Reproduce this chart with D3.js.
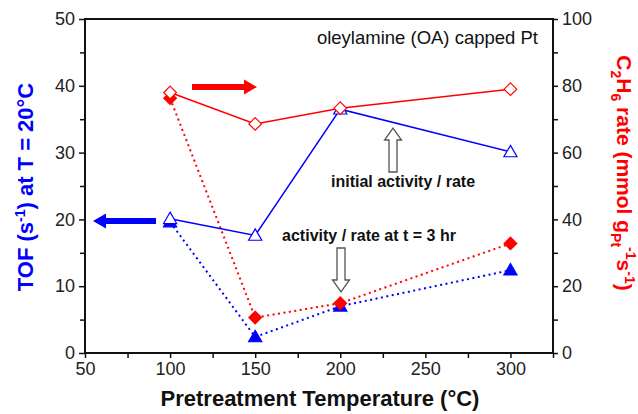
<!DOCTYPE html>
<html><head><meta charset="utf-8">
<script src="https://cdn.jsdelivr.net/npm/d3@7"></script>
<style>body{margin:0;background:#fff}svg{display:block}text{font-family:"Liberation Sans",Arial,sans-serif}</style>
</head><body><svg id="c" width="638" height="414"></svg>
<script>
const temps = [100, 150, 200, 300];
const tofInitial = [20.1, 17.6, 36.5, 30.1];
const tof3hr = [19.6, 2.4, 7.0, 12.4];
const rateInitial = [78.0, 68.6, 73.3, 79.0];
const rate3hr = [76.3, 10.6, 14.9, 32.8];
const xTicks = [50, 100, 150, 200, 250, 300];
const yLeftTicks = [0, 10, 20, 30, 40, 50];
const yRightTicks = [0, 20, 40, 60, 80, 100];

const svg = d3.select("#c");
const L = 85, R = 553, T = 19, B = 353;
const x = d3.scaleLinear().domain([50, 325]).range([L, R]);
const yl = d3.scaleLinear().domain([0, 50]).range([B, T]);
const yr = d3.scaleLinear().domain([0, 100]).range([B, T]);
const BLUE = "#0000ff", RED = "#ff0000";

svg.append("rect").attr("x", L).attr("y", T).attr("width", R - L).attr("height", B - T)
  .attr("fill", "none").attr("stroke", "#111").attr("stroke-width", 2);

function styleAxis(g) {
  g.selectAll(".domain").remove();
  g.selectAll("line").attr("stroke", "#111").attr("stroke-width", 1.5);
  g.selectAll("text").attr("fill", "#222").style("font-size", "18px");
}
svg.append("g").attr("transform", `translate(0,${B})`)
  .call(d3.axisBottom(x).tickValues([75,125,175,225,275,325]).tickSize(5).tickFormat(""))
  .call(styleAxis);
svg.append("g").attr("transform", `translate(0,${B})`)
  .call(d3.axisBottom(x).tickValues(xTicks).tickSize(5).tickPadding(4).tickFormat(d3.format("d")))
  .call(styleAxis);
svg.append("g").attr("transform", `translate(${L},0)`)
  .call(d3.axisLeft(yl).tickValues([5,15,25,35,45]).tickSize(5).tickFormat(""))
  .call(styleAxis);
svg.append("g").attr("transform", `translate(${L},0)`)
  .call(d3.axisLeft(yl).tickValues(yLeftTicks).tickSize(6).tickPadding(4).tickFormat(d3.format("d")))
  .call(styleAxis);
svg.append("g").attr("transform", `translate(${R},0)`)
  .call(d3.axisRight(yr).tickValues([10,30,50,70,90]).tickSize(5).tickFormat(""))
  .call(styleAxis);
svg.append("g").attr("transform", `translate(${R},0)`)
  .call(d3.axisRight(yr).tickValues(yRightTicks).tickSize(5).tickPadding(4).tickFormat(d3.format("d")))
  .call(styleAxis);

function line(vals, yscale, color, dotted) {
  const gen = d3.line().x((d, i) => x(temps[i])).y(d => yscale(d));
  svg.append("path").attr("d", gen(vals)).attr("fill", "none").attr("stroke", color)
    .attr("stroke-width", dotted ? 2 : 1.5)
    .attr("stroke-dasharray", dotted ? "2,3.5" : null);
}
line(tof3hr, yl, BLUE, true);
line(rate3hr, yr, RED, true);
line(tofInitial, yl, BLUE, false);
line(rateInitial, yr, RED, false);

const tri = d3.symbol().type(d3.symbolTriangle).size(75);
const diaShape = { draw(ctx, size) { const r = Math.sqrt(size / 2); ctx.moveTo(0, -r); ctx.lineTo(r, 0); ctx.lineTo(0, r); ctx.lineTo(-r, 0); ctx.closePath(); } };
const dia = d3.symbol().type(diaShape).size(80);
function markers(vals, yscale, sym, color, filled, dy) {
  svg.append("g").selectAll("path").data(vals).join("path")
    .attr("d", sym)
    .attr("transform", (d, i) => `translate(${x(temps[i])},${yscale(d) + (dy||0)})`)
    .attr("fill", filled ? color : "#fff").attr("stroke", color).attr("stroke-width", 1.2);
}
markers(tof3hr, yl, tri, BLUE, true, 1);
markers(rate3hr, yr, dia, RED, true);
markers(tofInitial, yl, tri, BLUE, false, 1);
markers(rateInitial, yr, dia, RED, false);

function solidArrow(x0, x1, y, color) {
  const dir = Math.sign(x1 - x0), hl = 13, hw = 7.5, sw = 3;
  const xb = x1 - dir * hl;
  const pts = [[x0, y - sw], [xb, y - sw], [xb, y - hw], [x1, y], [xb, y + hw], [xb, y + sw], [x0, y + sw]];
  svg.append("path").attr("d", d3.line()(pts) + "Z").attr("fill", color);
}
solidArrow(192, 257, 87, RED);
solidArrow(156, 93, 221, BLUE);

function hollowArrow(cx, yTail, yTip) {
  const dir = Math.sign(yTip - yTail), hl = 12, hw = 8.5, sw = 4;
  const yb = yTip - dir * hl;
  const pts = [[cx - sw, yTail], [cx - sw, yb], [cx - hw, yb], [cx, yTip], [cx + hw, yb], [cx + sw, yb], [cx + sw, yTail]];
  svg.append("path").attr("d", d3.line()(pts) + "Z").attr("fill", "#fff").attr("stroke", "#555").attr("stroke-width", 1.3);
}
hollowArrow(393, 172, 128);
hollowArrow(341, 248, 292);

svg.append("text").attr("x", 403).attr("y", 187).attr("text-anchor", "middle")
  .style("font-size", "16px").style("font-weight", "bold").attr("fill", "#111").text("initial activity / rate");
svg.append("text").attr("x", 369).attr("y", 240.5).attr("text-anchor", "middle")
  .style("font-size", "16px").style("font-weight", "bold").attr("fill", "#111").text("activity / rate at t = 3 hr");
svg.append("text").attr("x", 538).attr("y", 44).attr("text-anchor", "end")
  .style("font-size", "18.5px").attr("fill", "#111").text("oleylamine (OA) capped Pt");

svg.append("text").attr("x", 320).attr("y", 406).attr("text-anchor", "middle")
  .style("font-size", "22px").style("font-weight", "bold").attr("fill", "#111").text("Pretreatment Temperature (°C)");

const lt = svg.append("text").attr("transform", "translate(33,187) rotate(-90)").attr("text-anchor", "middle")
  .style("font-size", "22px").style("font-weight", "bold").attr("fill", BLUE);
lt.append("tspan").text("TOF (s");
lt.append("tspan").attr("dy", -8).style("font-size", "14px").text("-1");
lt.append("tspan").attr("dy", 8).text(") at T = 20°C");

const rt = svg.append("text").attr("transform", "translate(617,173) rotate(90)").attr("text-anchor", "middle")
  .style("font-size", "21px").style("font-weight", "bold").attr("fill", RED);
rt.append("tspan").text("C");
rt.append("tspan").attr("dy", 6).style("font-size", "14px").text("2");
rt.append("tspan").attr("dy", -6).text("H");
rt.append("tspan").attr("dy", 6).style("font-size", "14px").text("6");
rt.append("tspan").attr("dy", -6).text(" rate (mmol g");
rt.append("tspan").attr("dy", 6).style("font-size", "14px").text("Pt");
rt.append("tspan").attr("dy", -15).style("font-size", "14px").text("-1");
rt.append("tspan").attr("dy", 9).text("s");
rt.append("tspan").attr("dy", -8).style("font-size", "14px").text("-1");
rt.append("tspan").attr("dy", 8).text(")");
</script></body></html>
